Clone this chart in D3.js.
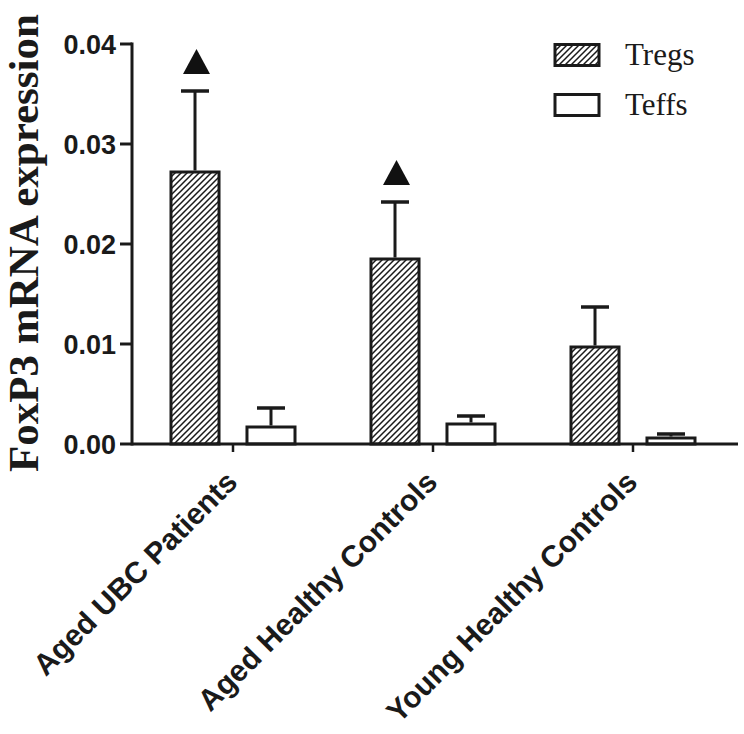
<!DOCTYPE html>
<html>
<head>
<meta charset="utf-8">
<script src="https://cdn.jsdelivr.net/npm/d3@7"></script>
<style>
  html, body { margin: 0; padding: 0; background: #fff; }
  svg { display: block; }
</style>
</head>
<body>
<svg id="chart" width="744" height="734"></svg>
<script>
// ---- data ----
const categories = ["Aged UBC Patients", "Aged Healthy Controls", "Young Healthy Controls"];
const seriesNames = ["Tregs", "Teffs"];
const tregsValues = [0.0272, 0.0185, 0.0097];
const tregsErrors = [0.0081, 0.0057, 0.0040];
const teffsValues = [0.0017, 0.0020, 0.0006];
const teffsErrors = [0.0019, 0.0008, 0.0004];
const tregsSignificant = [true, true, false];
const yTicks = [0.00, 0.01, 0.02, 0.03, 0.04];
const yTitle = "FoxP3 mRNA expression";

const rows = [];
categories.forEach((c, i) => {
  rows.push({cat: c, series: "Tregs", value: tregsValues[i], err: tregsErrors[i], sig: tregsSignificant[i]});
  rows.push({cat: c, series: "Teffs", value: teffsValues[i], err: teffsErrors[i], sig: false});
});

const svg = d3.select("#chart");

const defs = svg.append("defs");
const pat = defs.append("pattern")
  .attr("id", "hatch")
  .attr("patternUnits", "userSpaceOnUse")
  .attr("width", 6).attr("height", 6);
pat.append("rect").attr("width", 6).attr("height", 6).attr("fill", "#fff");
pat.append("path")
  .attr("d", "M-1,1 l2,-2 M0,6 l6,-6 M5,7 l2,-2")
  .attr("stroke", "#1a1a1a").attr("stroke-width", 1.5);

const x0 = d3.scaleBand().domain(categories).range([133, 733]).padding(0);
const x1 = d3.scaleBand().domain(seriesNames).range([0, x0.bandwidth()])
  .paddingInner(0.368).paddingOuter(0.5);
const y = d3.scaleLinear().domain([0, 0.04]).range([444, 44]);

const fillFor = s => s === "Tregs" ? "url(#hatch)" : "#fff";

// bars
const g = svg.append("g");
g.selectAll("rect.bar").data(rows).join("rect")
  .attr("class", "bar")
  .attr("x", d => x0(d.cat) + x1(d.series))
  .attr("width", x1.bandwidth())
  .attr("y", d => y(d.value))
  .attr("height", d => y(0) - y(d.value))
  .attr("fill", d => fillFor(d.series))
  .attr("stroke", "#1a1a1a")
  .attr("stroke-width", 3);

// error bars
const cx = d => x0(d.cat) + x1(d.series) + x1.bandwidth() / 2;
g.selectAll("line.err").data(rows).join("line")
  .attr("x1", cx).attr("x2", cx)
  .attr("y1", d => y(d.value) - 1.5)
  .attr("y2", d => y(d.value + d.err))
  .attr("stroke", "#1a1a1a").attr("stroke-width", 3);
g.selectAll("line.cap").data(rows).join("line")
  .attr("x1", d => cx(d) - 14).attr("x2", d => cx(d) + 14)
  .attr("y1", d => y(d.value + d.err))
  .attr("y2", d => y(d.value + d.err))
  .attr("stroke", "#1a1a1a").attr("stroke-width", 3.5);

// significance triangles
g.selectAll("path.sig").data(rows.filter(d => d.sig)).join("path")
  .attr("d", d => {
    const xc = cx(d) + 1.5;
    const yb = y(d.value + d.err) - 17;
    return `M${xc - 13.5},${yb} L${xc + 13.5},${yb} L${xc},${yb - 25} Z`;
  })
  .attr("fill", "#111");

// axes
const axisColor = "#1a1a1a";
svg.append("line").attr("x1", 132).attr("x2", 132).attr("y1", y(0.04) - 1.5).attr("y2", y(0) + 1.5)
  .attr("stroke", axisColor).attr("stroke-width", 3);
svg.append("line").attr("x1", 132).attr("x2", 738).attr("y1", y(0)).attr("y2", y(0))
  .attr("stroke", axisColor).attr("stroke-width", 3);

const yt = svg.append("g");
yt.selectAll("line").data(yTicks).join("line")
  .attr("x1", 120).attr("x2", 132)
  .attr("y1", d => y(d)).attr("y2", d => y(d))
  .attr("stroke", axisColor).attr("stroke-width", 3);
yt.selectAll("text").data(yTicks).join("text")
  .attr("x", 116).attr("y", d => y(d) + 10)
  .attr("text-anchor", "end")
  .attr("font-family", "Liberation Sans, Arial, sans-serif")
  .attr("font-weight", "bold").attr("font-size", 27)
  .attr("fill", "#1a1a1a")
  .text(d => d3.format(".2f")(d));

// x ticks
const xt = svg.append("g");
xt.selectAll("line").data(categories).join("line")
  .attr("x1", d => x0(d) + x0.bandwidth() / 2).attr("x2", d => x0(d) + x0.bandwidth() / 2)
  .attr("y1", y(0)).attr("y2", y(0) + 8)
  .attr("stroke", axisColor).attr("stroke-width", 2.5);
xt.selectAll("text").data(categories).join("text")
  .attr("transform", d => `translate(${x0(d) + x0.bandwidth() / 2 + 6},${y(0) + 40}) rotate(-45)`)
  .attr("text-anchor", "end")
  .attr("font-family", "Liberation Sans, Arial, sans-serif")
  .attr("font-weight", "bold").attr("font-size", 30)
  .attr("fill", "#1a1a1a")
  .text(d => d);

// y title
svg.append("text")
  .attr("transform", `translate(38,243) rotate(-90)`)
  .attr("text-anchor", "middle")
  .attr("font-family", "Liberation Serif, Times New Roman, serif")
  .attr("font-weight", "bold").attr("font-size", 43)
  .attr("fill", "#1a1a1a")
  .text(yTitle);

// legend
const legend = svg.append("g");
seriesNames.forEach((s, i) => {
  legend.append("rect")
    .attr("x", 555).attr("y", 44.5 + i * 50)
    .attr("width", 44).attr("height", 21)
    .attr("fill", fillFor(s))
    .attr("stroke", "#1a1a1a").attr("stroke-width", 3);
  legend.append("text")
    .attr("x", 625).attr("y", 65 + i * 50)
    .attr("font-family", "Liberation Serif, Times New Roman, serif")
    .attr("font-size", 31)
    .attr("fill", "#1a1a1a")
    .text(s);
});
</script>
</body>
</html>
